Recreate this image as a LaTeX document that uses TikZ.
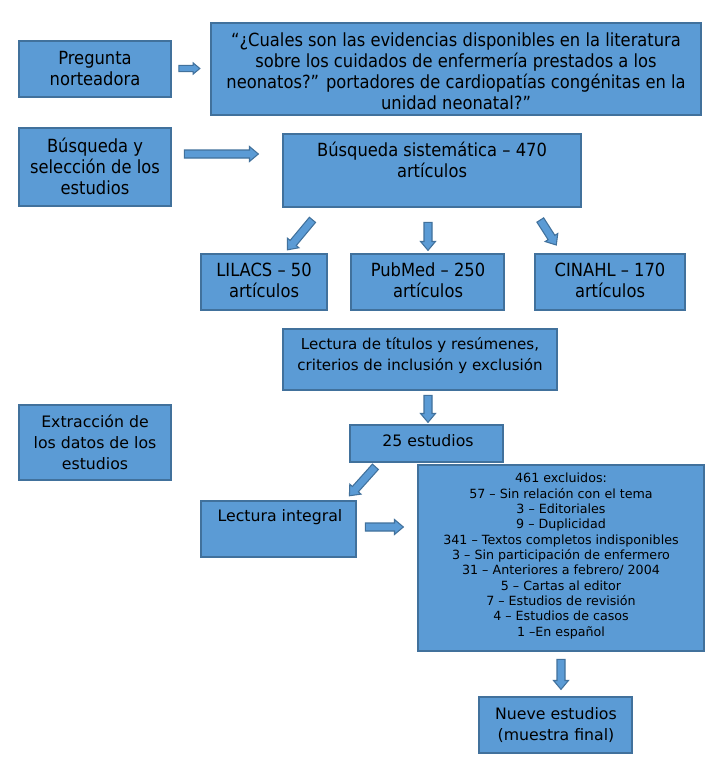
\documentclass[tikz,border=0pt]{standalone}
\usepackage{fontspec}
\setmainfont{DejaVu Sans}
\newfontfamily\condfont[FakeStretch=0.9]{DejaVu Sans}
\usetikzlibrary{shapes.arrows,fit,calc}
\definecolor{boxfill}{HTML}{5B9BD5}
\definecolor{boxline}{HTML}{41719C}
\tikzset{
 box/.style={draw=boxline, fill=boxfill, line width=1pt, inner sep=0pt},
 ctxt/.style={align=center, font=\condfont\fontsize{13.6}{15.75}\selectfont, inner sep=0pt},
 vtxt/.style={align=center, font=\fontsize{11.8}{15.75}\selectfont, inner sep=0pt},
 stxt/.style={align=center, font=\fontsize{9.5}{11.5}\selectfont, inner sep=0pt},
 blkarrow/.style={single arrow, draw=boxline, fill=boxfill, line width=0.8pt, inner xsep=0pt, inner ysep=2.6pt, single arrow head extend=2.6pt, single arrow tip angle=80, minimum width=0pt},
}
\newcommand\blockarrow[3][]{\path let \p1=($(#3)-(#2)$), \n1={veclen(\x1,\y1)} in (#2) -- (#3) node[blkarrow, midway, sloped, allow upside down, minimum height=\n1, #1] {};}
\begin{document}
\begin{tikzpicture}[x=0.75pt, y=-0.75pt]
\path[use as bounding box, fill=white] (0,0) rectangle (722,767);
% boxes
\node[box, fit={(19,41)(171,97)}] (preg) {};
\node[box, fit={(211,23)(701,115)}] (quest) {};
\node[box, fit={(19,128)(171,206)}] (busq) {};
\node[box, fit={(283,134)(581,207)}] (sist) {};
\node[box, fit={(201,254)(327,310)}] (lil) {};
\node[box, fit={(351,254)(504,310)}] (pub) {};
\node[box, fit={(535,254)(685,310)}] (cin) {};
\node[box, fit={(283,329)(557,390)}] (lect) {};
\node[box, fit={(19,405)(171,480)}] (extr) {};
\node[box, fit={(350,425)(503,462)}] (e25) {};
\node[box, fit={(201,501)(356,557)}] (integ) {};
\node[box, fit={(418,465)(704,651)}] (excl) {};
\node[box, fit={(479,697)(632,753)}] (nueve) {};
% texts
\node[ctxt] (tpreg) at (95,69) {Pregunta\\norteadora};
\node[ctxt] (tquest) at (456,71) {“¿Cuales son las evidencias disponibles en la literatura\\sobre los cuidados de enfermería prestados a los\\neonatos?” portadores de cardiopatías congénitas en la\\unidad neonatal?”};
\node[ctxt] (tbusq) at (95,166) {Búsqueda y\\selección de los\\estudios};
\node[ctxt] (tsist) at (432,160) {Búsqueda sistemática – 470\\artículos};
\node[ctxt] (tlil) at (264,280) {LILACS – 50\\artículos};
\node[ctxt] (tpub) at (428,280) {PubMed – 250\\artículos};
\node[ctxt] (tcin) at (610,280) {CINAHL – 170\\artículos};
\node[vtxt, font=\fontsize{11.3}{15.75}\selectfont] (tlect) at (420,356) {Lectura de títulos y resúmenes,\\criterios de inclusión y exclusión};
\node[vtxt] (textr) at (95,442) {Extracción de\\los datos de los\\estudios};
\node[vtxt] (te25) at (428,441) {25 estudios};
\node[vtxt] (tinteg) at (280,517) {Lectura integral};
\node[stxt] (texcl) at (561,556) {461 excluidos:\\57 – Sin relación con el tema\\3 – Editoriales\\9 – Duplicidad\\341 – Textos completos indisponibles\\3 – Sin participación de enfermero\\31 – Anteriores a febrero/ 2004\\5 – Cartas al editor\\7 – Estudios de revisión\\4 – Estudios de casos\\1 –En español};
\node[vtxt] (tnueve) at (556,725) {Nueve estudios\\(muestra final)};
% arrow end points
\coordinate (a1s) at (177,68.5); \coordinate (a1e) at (198,68.5);
\coordinate (a2s) at (182,154); \coordinate (a2e) at (256,154);
\coordinate (a3s) at (314,218); \coordinate (a3e) at (289,248);
\coordinate (a4s) at (428,220); \coordinate (a4e) at (428,248);
\coordinate (a5s) at (539,218); \coordinate (a5e) at (555,243);
\coordinate (a6s) at (428,393); \coordinate (a6e) at (428,420);
\coordinate (a7s) at (377,465); \coordinate (a7e) at (351,494);
\coordinate (a8s) at (363,527); \coordinate (a8e) at (401,527);
\coordinate (a9s) at (561,657); \coordinate (a9e) at (561,687);
\blockarrow[inner ysep=1.9pt, single arrow head extend=1.9pt]{a1s}{a1e}
\blockarrow{a2s}{a2e}
\blockarrow{a3s}{a3e}
\blockarrow{a4s}{a4e}
\blockarrow{a5s}{a5e}
\blockarrow{a6s}{a6e}
\blockarrow{a7s}{a7e}
\blockarrow{a8s}{a8e}
\blockarrow{a9s}{a9e}
\end{tikzpicture}
\end{document}
